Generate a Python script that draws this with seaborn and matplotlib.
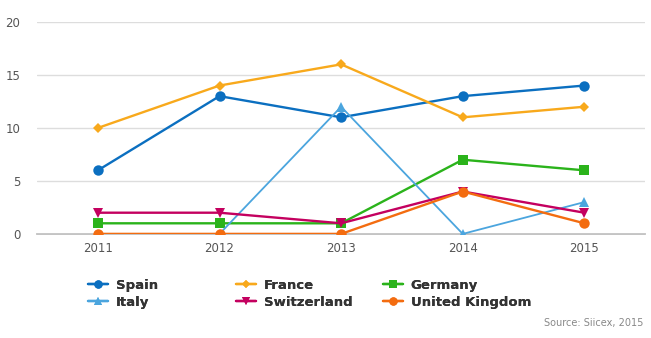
import matplotlib
matplotlib.use("Agg")
import matplotlib.pyplot as plt
import seaborn as sns
import pandas as pd

years = ["2011", "2012", "2013", "2014", "2015"]
spain = [6, 13, 11, 13, 14]
france = [10, 14, 16, 11, 12]
germany = [1, 1, 1, 7, 6]
italy = [0, 0, 12, 0, 3]
switzerland = [2, 2, 1, 4, 2]
united_kingdom = [0, 0, 0, 4, 1]

series = {
    "Spain": spain,
    "France": france,
    "Germany": germany,
    "Italy": italy,
    "Switzerland": switzerland,
    "United Kingdom": united_kingdom,
}
rows = []
for name, vals in series.items():
    for y, v in zip(years, vals):
        rows.append({"Year": y, "Value": v, "Country": name})
df = pd.DataFrame(rows)

palette = {
    "Spain": "#0b6fc0",
    "France": "#f8a91c",
    "Germany": "#2bb31b",
    "Italy": "#4ba5de",
    "Switzerland": "#c4005f",
    "United Kingdom": "#f36c10",
}
markers = {
    "Spain": "o",
    "France": "D",
    "Germany": "s",
    "Italy": "^",
    "Switzerland": "v",
    "United Kingdom": "o",
}
sizes_ms = {"Spain": 7.5, "France": 5, "Germany": 7.5, "Italy": 7, "Switzerland": 7, "United Kingdom": 7.5}

sns.set_theme(style="white")
plt.rcParams["font.family"] = ["DejaVu Sans"]

fig = plt.figure(figsize=(6.51, 3.38), dpi=100)
ax = fig.add_axes([0.057, 0.308, 0.934, 0.627])

sns.lineplot(data=df, x="Year", y="Value", hue="Country", style="Country",
             palette=palette, markers=markers, dashes=False, linewidth=1.7,
             markeredgewidth=0, ax=ax, legend=True, sort=False)

for line, name in zip(ax.lines[:6], series.keys()):
    line.set_markersize(sizes_ms[name])
    if name == "Italy":
        line.set_linewidth(1.3)

ax.set_xlim(-0.5, 4.5)
ax.set_ylim(0, 20)
ax.set_yticks([0, 5, 10, 15, 20])
ax.grid(axis="y", color="#dddddd", linewidth=1)
ax.set_axisbelow(True)
for s in ["top", "right", "left"]:
    ax.spines[s].set_visible(False)
ax.spines["bottom"].set_color("#bbbbbb")
ax.spines["bottom"].set_zorder(0.5)
ax.set_xlabel("")
ax.set_ylabel("")
ax.tick_params(axis="both", length=0, labelsize=8.5, labelcolor="#555555")
ax.tick_params(axis="x", pad=6)
ax.tick_params(axis="y", pad=12)

handles, labels = ax.get_legend_handles_labels()
ax.get_legend().remove()
hmap = dict(zip(labels, handles))
for name, h in hmap.items():
    h.set_markersize(sizes_ms[name] * 0.8)

columns = [["Spain", "Italy"], ["France", "Switzerland"], ["Germany", "United Kingdom"]]
col_x = [88, 236, 383]
for names, xpx in zip(columns, col_x):
    leg = fig.legend([hmap[n] for n in names], names, loc="upper left",
                     bbox_to_anchor=(xpx / 651, 1 - 279 / 338), frameon=False,
                     prop={"weight": "bold", "size": 9.5}, handlelength=1.5,
                     handletextpad=0.6, labelspacing=0.3, borderaxespad=0,
                     borderpad=0)
    for t in leg.get_texts():
        t.set_color("#333333")
    fig.add_artist(leg)

fig.text(0.988, 1 - 323 / 338, "Source: Siicex, 2015", ha="right", va="center",
         fontsize=7, color="#888888")

fig.savefig("out.png", dpi=100)
